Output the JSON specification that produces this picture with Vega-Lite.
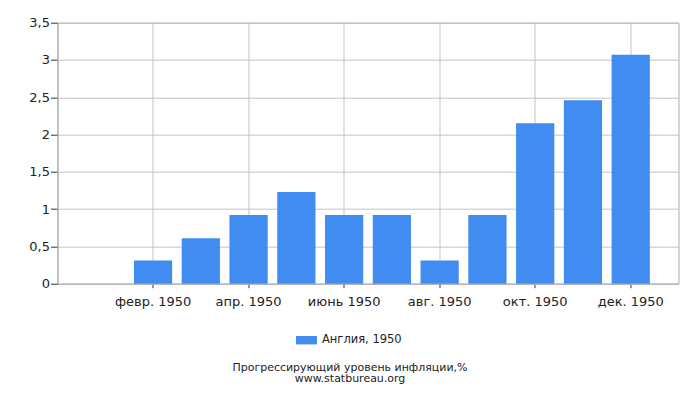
{
  "$schema": "https://vega.github.io/schema/vega-lite/v6.json",
  "autosize": {"type": "none"},
  "width": 621,
  "height": 261,
  "padding": {"left": 57.5, "top": 22.7, "right": 21.3, "bottom": 116.3},
  "background": "white",
  "data": {
    "values": [
      {"month": "янв. 1950", "value": 0, "series": "Англия, 1950"},
      {"month": "февр. 1950", "value": 0.31, "series": "Англия, 1950"},
      {"month": "март 1950", "value": 0.61, "series": "Англия, 1950"},
      {"month": "апр. 1950", "value": 0.92, "series": "Англия, 1950"},
      {"month": "май 1950", "value": 1.23, "series": "Англия, 1950"},
      {"month": "июнь 1950", "value": 0.92, "series": "Англия, 1950"},
      {"month": "июль 1950", "value": 0.92, "series": "Англия, 1950"},
      {"month": "авг. 1950", "value": 0.31, "series": "Англия, 1950"},
      {"month": "сент. 1950", "value": 0.92, "series": "Англия, 1950"},
      {"month": "окт. 1950", "value": 2.15, "series": "Англия, 1950"},
      {"month": "нояб. 1950", "value": 2.46, "series": "Англия, 1950"},
      {"month": "дек. 1950", "value": 3.07, "series": "Англия, 1950"}
    ]
  },
  "title": {
    "text": ["Прогрессирующий уровень инфляции,%", "www.statbureau.org"],
    "orient": "bottom",
    "anchor": "middle",
    "dx": -18,
    "offset": 16,
    "fontSize": 11,
    "fontWeight": "normal",
    "lineHeight": 11,
    "font": "DejaVu Sans",
    "color": "#222"
  },
  "mark": {"type": "bar", "color": "#418cf0"},
  "encoding": {
    "x": {
      "field": "month",
      "type": "nominal",
      "sort": null,
      "scale": {"paddingInner": 0.2, "paddingOuter": 0.6},
      "axis": {
        "title": null,
        "labelAngle": 0,
        "values": ["февр. 1950", "апр. 1950", "июнь 1950", "авг. 1950", "окт. 1950", "дек. 1950"],
        "bandPosition": 0.5,
        "grid": true,
        "gridColor": "#c4c4c4",
        "tickColor": "#333",
        "tickSize": 4,
        "labelPadding": 8,
        "domainColor": "#b0b0b0"
      }
    },
    "y": {
      "field": "value",
      "type": "quantitative",
      "scale": {"domain": [0, 3.5], "nice": false},
      "axis": {
        "title": null,
        "values": [0, 0.5, 1, 1.5, 2, 2.5, 3, 3.5],
        "labelExpr": "replace(format(datum.value, '~g'), '.', ',')",
        "gridColor": "#c4c4c4",
        "tickColor": "#333",
        "tickSize": 7,
        "labelPadding": 1,
        "domainColor": "#b0b0b0"
      }
    },
    "fill": {
      "field": "series",
      "type": "nominal",
      "scale": {"range": ["#418cf0"]},
      "legend": {
        "title": null,
        "orient": "none",
        "legendX": 238.5,
        "legendY": 307,
        "symbolType": "M-1,-0.4H1V0.4H-1Z",
        "symbolSize": 441,
        "symbolStrokeWidth": 0,
        "labelOffset": 5,
        "labelFontSize": 11.5,
        "labelFont": "DejaVu Sans",
        "labelColor": "#222"
      }
    }
  },
  "config": {
    "view": {"stroke": "#aaa"},
    "axis": {
      "labelFont": "DejaVu Sans",
      "labelFontSize": 13,
      "labelColor": "#222"
    }
  }
}
